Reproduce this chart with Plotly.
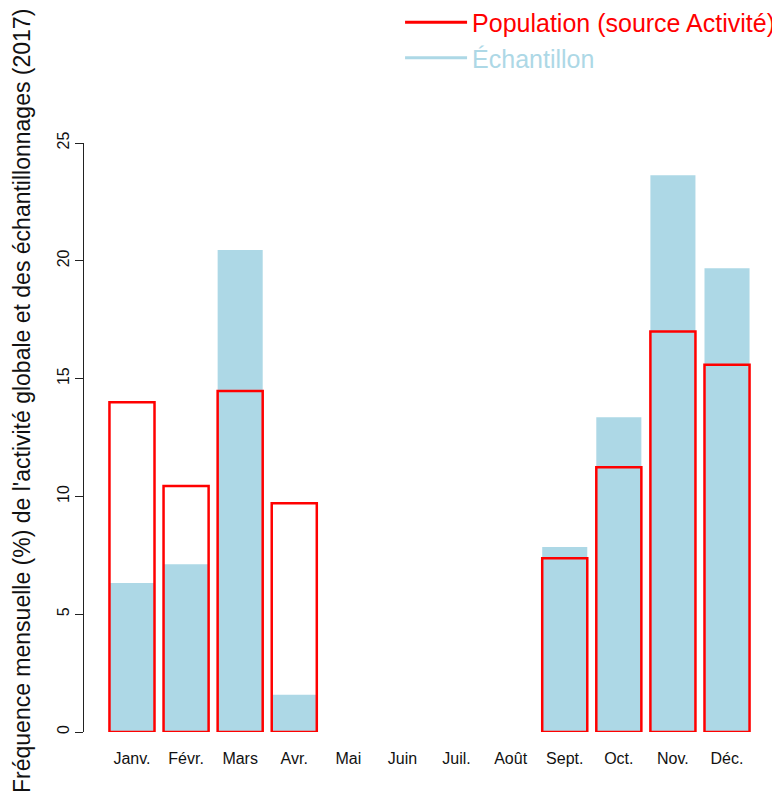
import plotly.graph_objects as go

months = ["Janv.", "Févr.", "Mars", "Avr.", "Mai", "Juin", "Juil.", "Août",
          "Sept.", "Oct.", "Nov.", "Déc."]
population = [14.0, 10.44, 14.47, 9.71, None, None, None, None, 7.38, 11.24, 17.0, 15.59]
echantillon = [6.32, 7.12, 20.46, 1.58, None, None, None, None, 7.85, 13.36, 23.63, 19.68]
y_ticks = [0, 5, 10, 15, 20, 25]

FONT = "Liberation Sans, Arial, sans-serif"
idx = list(range(len(months)))

fig = go.Figure()
fig.add_trace(go.Bar(x=idx, y=echantillon, width=0.833,
                     marker=dict(color="#ADD8E6", line=dict(width=0)),
                     showlegend=False, hoverinfo="skip"))
fig.add_trace(go.Bar(x=idx, y=population, width=0.833,
                     marker=dict(color="rgba(0,0,0,0)", line=dict(color="#FF0000", width=2.5)),
                     showlegend=False, hoverinfo="skip"))
# legend entries
fig.add_trace(go.Scatter(x=[None], y=[None], mode="lines",
                         line=dict(color="#FF0000", width=3),
                         name="<span style='color:#FF0000'>Population (source Activité)</span>"))
fig.add_trace(go.Scatter(x=[None], y=[None], mode="lines",
                         line=dict(color="#ADD8E6", width=3),
                         name="<span style='color:#ADD8E6'>Échantillon</span>"))

fig.update_layout(
    width=772, height=791,
    margin=dict(l=76, r=5, t=135, b=67, autoexpand=False),
    paper_bgcolor="white", plot_bgcolor="white",
    barmode="overlay",
    font=dict(family=FONT, color="black"),
    legend=dict(x=0.4574, xanchor="left", y=1.2436, yanchor="top",
                font=dict(size=25, family=FONT), bgcolor="rgba(0,0,0,0)",
                itemwidth=62, tracegroupgap=0),
    xaxis=dict(range=[-0.887, 11.887], tickvals=idx, ticktext=months,
               showline=False, showgrid=False, zeroline=False,
               ticks="outside", ticklen=12, tickcolor="rgba(0,0,0,0)",
               tickfont=dict(size=16, family=FONT, color="#111")),
    yaxis=dict(range=[0, 25], tickvals=y_ticks, tickangle=-90,
               showline=True, linecolor="#222", linewidth=1,
               ticks="outside", ticklen=8, tickcolor="#222",
               showgrid=False, zeroline=False,
               tickfont=dict(size=16, family=FONT, color="#111")),
    annotations=[dict(text="Fréquence mensuelle (%) de l'activité globale et des échantillonnages (2017)",
                      textangle=-90, xref="paper", yref="paper",
                      x=-0.0897, y=0.562, xanchor="center", yanchor="middle",
                      showarrow=False, font=dict(size=23, family=FONT, color="#111"))],
)

fig.write_html("out.html")
